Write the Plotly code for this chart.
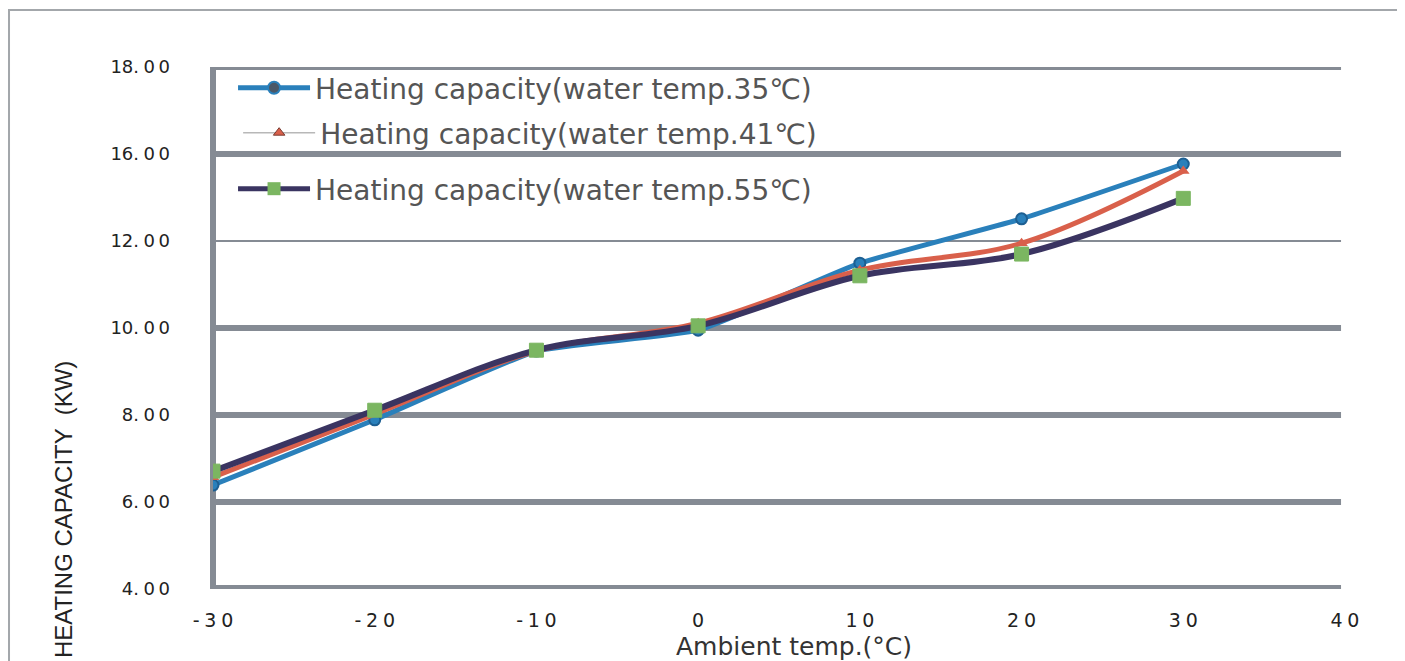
import plotly.graph_objects as go

# ---------------- data ----------------
ambient_temp = [-30, -20, -10, 0, 10, 20, 30]
cap_35 = [6.39, 7.89, 9.47, 9.95, 11.49, 12.51, 13.77]
cap_41 = [6.57, 8.02, 9.47, 10.11, 11.33, 11.95, 13.61]
cap_55 = [6.71, 8.11, 9.49, 10.05, 11.20, 11.70, 12.98]

series_names = [
    "Heating capacity(water temp.35℃)",
    "Heating capacity(water temp.41℃)",
    "Heating capacity(water temp.55℃)",
]

x_tick_vals = [-30, -20, -10, 0, 10, 20, 30, 40]
x_tick_labels = ["-30", "-20", "-10", "0", "10", "20", "30", "40"]
y_tick_vals = [4, 6, 8, 10, 12, 14, 16]
y_tick_labels = ["4.00", "6.00", "8.00", "10.00", "12.00", "16.00", "18.00"]
thick_grid = [6, 8, 10, 14, 16]
thin_grid = [12]

# ---------------- style ----------------
BLUE = "#2a80bb"
RED = "#d9604b"
NAVY = "#3a3461"
GREEN = "#7bb661"
GRID = "#858b94"


def spaced_x(s):
    return "\u2005".join(list(s))


def spaced_y(s):
    ip, dp = s.split(".")
    return ip + ".\u2005" + "\u2009".join(list(dp))


fig = go.Figure()

# data traces
fig.add_trace(go.Scatter(
    x=ambient_temp, y=cap_35, mode="lines+markers", showlegend=False,
    line=dict(color=BLUE, width=5, shape="spline", smoothing=0.4),
    marker=dict(symbol="circle", size=11, color=BLUE, line=dict(color="#1d5f92", width=2)),
    name=series_names[0]))
fig.add_trace(go.Scatter(
    x=ambient_temp, y=cap_41, mode="lines+markers", showlegend=False,
    line=dict(color=RED, width=5, shape="spline", smoothing=1.0),
    marker=dict(symbol="triangle-up", size=11, color=RED),
    name=series_names[1]))
fig.add_trace(go.Scatter(
    x=ambient_temp, y=cap_55, mode="lines+markers", showlegend=False,
    line=dict(color=NAVY, width=6, shape="spline", smoothing=1.0),
    marker=dict(symbol="square", size=14, color=GREEN, line=dict(color=GREEN, width=1)),
    name=series_names[2]))

# legend entries (styled like the reference legend)
LEG_FONT = dict(family="DejaVu Sans", size=28, color="#555555")
fig.add_trace(go.Scatter(
    x=[None], y=[None], mode="lines+markers", name=series_names[0], legend="legend",
    line=dict(color=BLUE, width=5),
    marker=dict(symbol="circle", size=12, color="#4a5868", line=dict(color=BLUE, width=2))))
fig.add_trace(go.Scatter(
    x=[None], y=[None], mode="lines+markers", name=series_names[1], legend="legend2",
    line=dict(color="#b8b8b8", width=1.5),
    marker=dict(symbol="triangle-up", size=10, color=RED, line=dict(color="#7a3a30", width=1))))
fig.add_trace(go.Scatter(
    x=[None], y=[None], mode="lines+markers", name=series_names[2], legend="legend3",
    line=dict(color=NAVY, width=5),
    marker=dict(symbol="square", size=13, color=GREEN)))

# gridlines and axis lines
shapes = []
for g in thick_grid:
    shapes.append(dict(type="line", xref="x domain", yref="y", x0=0, x1=0.9965, y0=g, y1=g,
                       line=dict(color=GRID, width=6), layer="below"))
for g in thin_grid:
    shapes.append(dict(type="line", xref="x domain", yref="y", x0=0, x1=0.9965, y0=g, y1=g,
                       line=dict(color=GRID, width=2), layer="below"))
shapes.append(dict(type="line", xref="x domain", yref="y", x0=0, x1=0.9965,
                   y0=y_tick_vals[0], y1=y_tick_vals[0],
                   line=dict(color=GRID, width=8), layer="below"))
shapes.append(dict(type="line", xref="x domain", yref="y", x0=0, x1=0,
                   y0=y_tick_vals[0], y1=y_tick_vals[-1],
                   line=dict(color=GRID, width=6), layer="below"))
# outer frame of the picture
shapes.append(dict(type="rect", xref="paper", yref="paper",
                   x0=-0.1802, x1=1.3, y0=-0.3, y1=1.1092,
                   line=dict(color="#a3a7ab", width=2), fillcolor="rgba(0,0,0,0)", layer="below"))

fig.update_layout(
    width=1405, height=661,
    margin=dict(l=205, r=68, t=59, b=80),
    paper_bgcolor="white", plot_bgcolor="white",
    shapes=shapes,
    legend=dict(x=0.0177, y=0.9598, xanchor="left", yanchor="middle", font=LEG_FONT,
                itemwidth=72, bgcolor="rgba(0,0,0,0)", tracegroupgap=0),
    legend2=dict(x=0.0222, y=0.8736, xanchor="left", yanchor="middle", font=LEG_FONT,
                 itemwidth=72, bgcolor="rgba(0,0,0,0)"),
    legend3=dict(x=0.0177, y=0.7663, xanchor="left", yanchor="middle", font=LEG_FONT,
                 itemwidth=72, bgcolor="rgba(0,0,0,0)"),
    xaxis=dict(range=[-30, 40], tickvals=x_tick_vals,
               ticktext=[spaced_x(t) for t in x_tick_labels],
               showgrid=False, zeroline=False, showline=False,
               ticks="", ticklabelstandoff=18,
               tickfont=dict(family="DejaVu Sans", size=19, color="#222222")),
    yaxis=dict(range=[4, 16], tickvals=y_tick_vals,
               ticktext=[spaced_y(t) for t in y_tick_labels],
               showgrid=False, zeroline=False, showline=False,
               ticks="", ticklabelstandoff=42,
               tickfont=dict(family="DejaVu Sans", size=18, color="#222222")),
    annotations=[
        dict(text="Ambient temp.(°C)", xref="paper", yref="paper", x=0.513, y=-0.111,
             xanchor="center", yanchor="middle", showarrow=False,
             font=dict(family="DejaVu Sans", size=25, color="#333333")),
        dict(text="HEATING CAPACITY  (KW)", xref="paper", yref="paper", x=-0.1325, y=0.1513,
             xanchor="center", yanchor="middle", textangle=-90, showarrow=False,
             font=dict(family="Liberation Sans", size=24, color="#222222")),
    ],
)

fig.write_html("out.html")
